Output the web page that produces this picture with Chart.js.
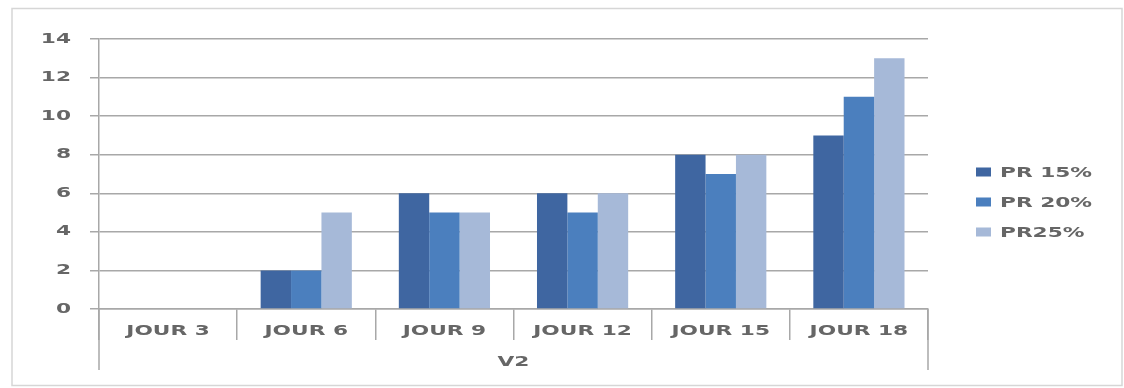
<!DOCTYPE html>
<html>
<head>
<meta charset="utf-8">
<script src="https://cdn.jsdelivr.net/npm/chart.js@4/dist/chart.umd.min.js"></script>
<style>
  html, body { margin: 0; padding: 0; background: #ffffff; }
  canvas { display: block; }
</style>
</head>
<body>
<canvas id="chart" width="1124" height="388"></canvas>
<script>
// Category labels, group label and series
const categories = ['JOUR 3', 'JOUR 6', 'JOUR 9', 'JOUR 12', 'JOUR 15', 'JOUR 18'];
const groupLabel = 'V2';
const seriesNames = ['PR 15%', 'PR 20%', 'PR25%'];
const pr15 = [0, 2, 6, 6, 8, 9];
const pr20 = [0, 2, 5, 5, 7, 11];
const pr25 = [0, 5, 5, 6, 8, 13];
const yTickValues = [0, 2, 4, 6, 8, 10, 12, 14];
const seriesColors = ['#3f66a1', '#4b7fbe', '#a6b9d8'];

// Wide lettering: every label is drawn horizontally stretched
const TEXT_STRETCH = 1.55;
const FONT_FAMILY = '"DejaVu Sans", Verdana, sans-serif';
const TEXT_COLOR = '#666666';
const LINE_COLOR = '#a8a8a8';

const canvas = document.getElementById('chart');
const ctx = canvas.getContext('2d');
const rawFill = CanvasRenderingContext2D.prototype.fillText;
const rawMeasure = CanvasRenderingContext2D.prototype.measureText;
ctx.fillText = function (text, x, y) {
  this.save();
  this.translate(x, y);
  this.scale(TEXT_STRETCH, 1);
  rawFill.call(this, text, 0, 0);
  this.restore();
};
ctx.measureText = function (text) {
  const m = rawMeasure.call(this, text);
  return {
    width: m.width * TEXT_STRETCH,
    actualBoundingBoxLeft: m.actualBoundingBoxLeft * TEXT_STRETCH,
    actualBoundingBoxRight: m.actualBoundingBoxRight * TEXT_STRETCH,
    actualBoundingBoxAscent: m.actualBoundingBoxAscent,
    actualBoundingBoxDescent: m.actualBoundingBoxDescent
  };
};

// White page with a thin outer frame
const framePlugin = {
  id: 'frame',
  beforeDraw(chart) {
    const c = chart.ctx;
    c.save();
    c.fillStyle = '#ffffff';
    c.fillRect(0, 0, chart.width, chart.height);
    c.strokeStyle = '#d6d6d6';
    c.lineWidth = 1.5;
    c.strokeRect(12, 8.5, chart.width - 14, chart.height - 11);
    c.restore();
  }
};

// Outer category dividers reach down past the group label
const groupLinesPlugin = {
  id: 'groupLines',
  afterDraw(chart) {
    const { left, right, bottom } = chart.chartArea;
    const c = chart.ctx;
    c.save();
    c.strokeStyle = LINE_COLOR;
    c.lineWidth = 1.5;
    c.beginPath();
    c.moveTo(left, bottom);
    c.lineTo(left, bottom + 61);
    c.moveTo(right, bottom);
    c.lineTo(right, bottom + 61);
    c.stroke();
    c.restore();
  }
};

// Legend to the right of the plot
const sideLegendPlugin = {
  id: 'sideLegend',
  afterDraw(chart) {
    const c = chart.ctx;
    const x0 = chart.chartArea.right + 48;
    c.save();
    c.font = 'bold 14px ' + FONT_FAMILY;
    c.textAlign = 'left';
    c.textBaseline = 'middle';
    chart.data.datasets.forEach((ds, i) => {
      const y = 172 + i * 30;
      c.fillStyle = ds.backgroundColor;
      c.fillRect(x0, y - 4.5, 15, 9);
      c.fillStyle = TEXT_COLOR;
      c.fillText(ds.label, x0 + 24, y + 1);
    });
    c.restore();
  }
};

const labelFont = { family: FONT_FAMILY, size: 14, weight: 'bold' };

new Chart(ctx, {
  type: 'bar',
  data: {
    labels: categories,
    datasets: [pr15, pr20, pr25].map((values, i) => ({
      label: seriesNames[i],
      data: values,
      backgroundColor: seriesColors[i],
      borderWidth: 0,
      categoryPercentage: 0.66,
      barPercentage: 1.0
    }))
  },
  options: {
    responsive: false,
    animation: false,
    layout: { padding: { top: 39, left: 0, right: 196, bottom: 0 } },
    plugins: {
      legend: { display: false },
      tooltip: { enabled: false }
    },
    scales: {
      x: {
        afterFit(scale) { scale.height = 79; },
        grid: {
          offset: true,
          drawOnChartArea: false,
          drawTicks: true,
          tickLength: 31,
          color: LINE_COLOR,
          lineWidth: 1.5
        },
        border: { display: true, color: LINE_COLOR, width: 1.5 },
        ticks: {
          autoSkip: false,
          maxRotation: 0,
          minRotation: 0,
          padding: -17,
          color: TEXT_COLOR,
          font: labelFont
        },
        title: {
          display: true,
          text: groupLabel,
          color: TEXT_COLOR,
          font: labelFont,
          padding: { top: 0, bottom: 17.6 }
        }
      },
      y: {
        min: yTickValues[0],
        max: yTickValues[yTickValues.length - 1],
        afterFit(scale) { scale.width = 99; },
        afterBuildTicks(scale) { scale.ticks = yTickValues.map(v => ({ value: v })); },
        grid: {
          color: LINE_COLOR,
          lineWidth: 1.5,
          tickLength: 9
        },
        border: { display: true, color: LINE_COLOR, width: 1.5 },
        ticks: {
          padding: 19,
          color: TEXT_COLOR,
          font: labelFont
        }
      }
    }
  },
  plugins: [framePlugin, groupLinesPlugin, sideLegendPlugin]
});
</script>
</body>
</html>
